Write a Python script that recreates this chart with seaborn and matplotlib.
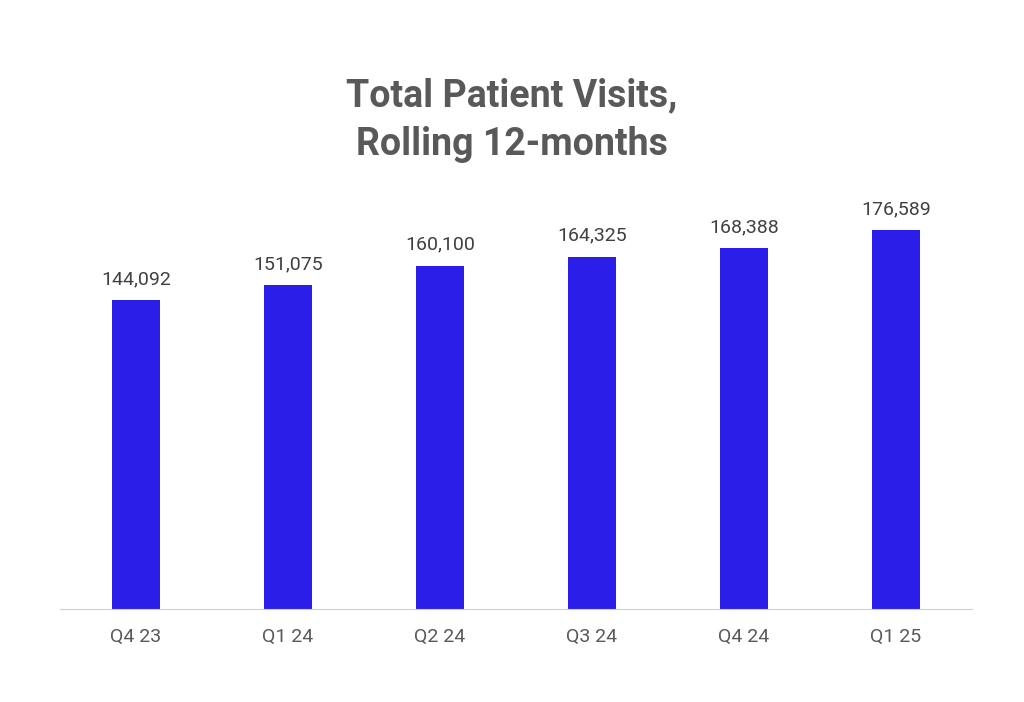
import matplotlib
matplotlib.use("Agg")
from matplotlib import pyplot as plt
import seaborn as sns

quarters = ["Q4 23", "Q1 24", "Q2 24", "Q3 24", "Q4 24", "Q1 25"]
visits = [144092, 151075, 160100, 164325, 168388, 176589]

plt.rcParams["font.family"] = "Roboto"
fig = plt.figure(figsize=(10.24, 7.02), dpi=100)
ax = fig.add_axes([60 / 1024, 1 - 609 / 702, 912 / 1024, 429 / 702])

sns.barplot(x=quarters, y=visits, color="#2a1ee8", saturation=1, width=0.31, ax=ax)
ax.set_xlim(-0.5, 5.5)
ax.set_ylim(0, 200000)

for i, v in enumerate(visits):
    ax.text(i, v + 5500, f"{v:,}", ha="center", va="bottom", fontsize=14, color="#404040")

for s in ["top", "right", "left"]:
    ax.spines[s].set_visible(False)
ax.spines["bottom"].set_color("#d0d0d0")
ax.set_yticks([])
ax.tick_params(axis="x", length=0, pad=14, labelsize=14, labelcolor="#595959")
ax.set_xlabel("")
ax.set_ylabel("")

fig.text(0.5, 1 - 120 / 702, "Total Patient Visits,\nRolling 12-months", ha="center", va="center",
         fontsize=27, fontweight="bold", color="#595959", linespacing=1.4)

plt.savefig("out.png", dpi=100)
